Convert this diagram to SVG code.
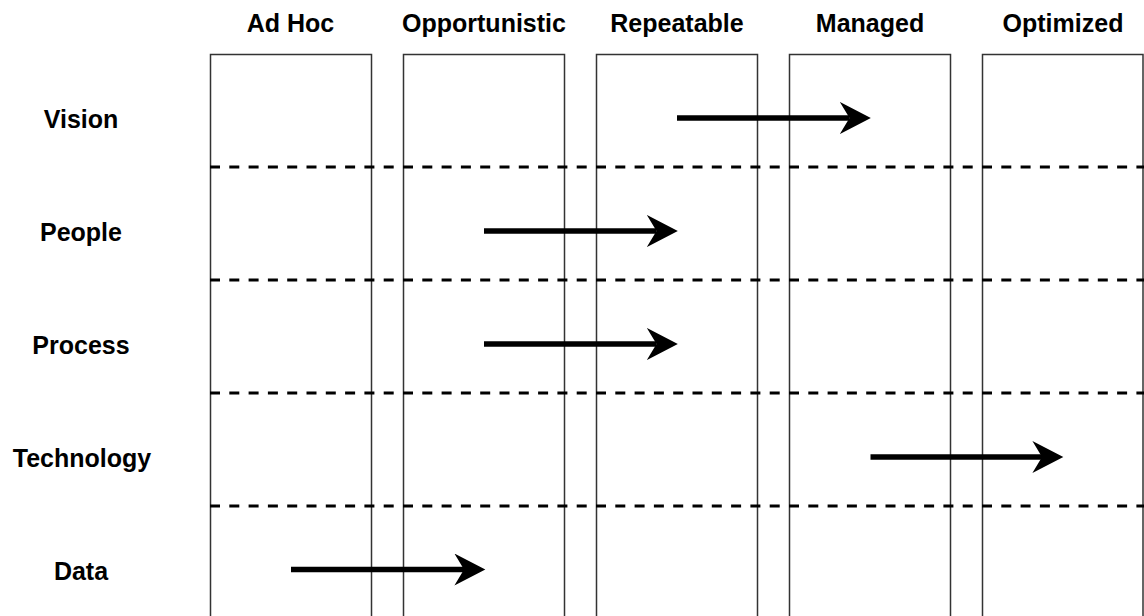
<svg xmlns="http://www.w3.org/2000/svg" width="1144" height="616" viewBox="0 0 1144 616">
<style>
.col{fill:#fff;stroke:#333;stroke-width:1.5}
.dash{stroke:#000;stroke-width:3;stroke-dasharray:10 9.3;fill:none}
.arr{stroke:#000;stroke-width:5.5;fill:none}
text{font-family:"Liberation Sans",Arial,sans-serif;font-weight:bold;font-size:25px;fill:#000;text-anchor:middle}
</style>
<defs>
<marker id="head" markerUnits="userSpaceOnUse" markerWidth="32" markerHeight="32" viewBox="0 0 30 30" refX="9" refY="15" orient="auto">
<path d="M0,0 L29,15 L0,30 L9,15 Z" fill="#000"/>
</marker>
</defs>
<rect width="1144" height="616" fill="#fff"/>
<g id="col-adhoc"><rect class="col" x="210.5" y="54.5" width="161" height="600"/><text x="290.5" y="31.5">Ad Hoc</text></g>
<g id="col-opportunistic"><rect class="col" x="403.5" y="54.5" width="161" height="600"/><text x="484" y="31.5">Opportunistic</text></g>
<g id="col-repeatable"><rect class="col" x="596.5" y="54.5" width="161" height="600"/><text x="677" y="31.5">Repeatable</text></g>
<g id="col-managed"><rect class="col" x="789.5" y="54.5" width="161" height="600"/><text x="870" y="31.5">Managed</text></g>
<g id="col-optimized"><rect class="col" x="982.5" y="54.5" width="160.5" height="600"/><text x="1063" y="31.5">Optimized</text></g>
<g id="row-vision"><text x="81" y="127.5">Vision</text></g>
<g id="row-people"><text x="81" y="240.5">People</text></g>
<g id="row-process"><text x="81" y="353.5">Process</text></g>
<g id="row-technology"><text x="82" y="466.5">Technology</text></g>
<g id="row-data"><text x="81" y="579.5">Data</text></g>
<g id="separators">
<line class="dash" x1="210" y1="167" x2="1144" y2="167"/>
<line class="dash" x1="210" y1="280" x2="1144" y2="280"/>
<line class="dash" x1="210" y1="393" x2="1144" y2="393"/>
<line class="dash" x1="210" y1="506" x2="1144" y2="506"/>
</g>
<g id="connectors">
<line class="arr" x1="677" y1="118" x2="849.5" y2="118" marker-end="url(#head)"/>
<line class="arr" x1="484" y1="231" x2="656.5" y2="231" marker-end="url(#head)"/>
<line class="arr" x1="484" y1="344" x2="656.5" y2="344" marker-end="url(#head)"/>
<line class="arr" x1="870.5" y1="457" x2="1042" y2="457" marker-end="url(#head)"/>
<line class="arr" x1="291" y1="569.5" x2="464" y2="569.5" marker-end="url(#head)"/>
</g>
</svg>
